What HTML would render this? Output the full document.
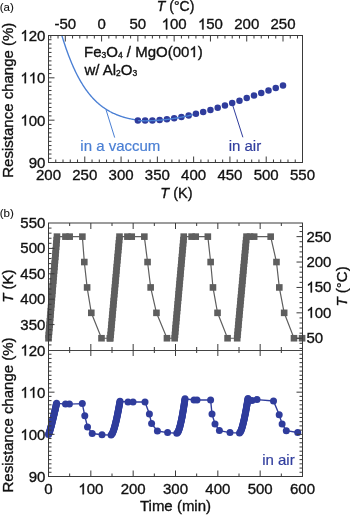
<!DOCTYPE html>
<html><head><meta charset="utf-8"><style>
html,body{margin:0;padding:0;background:#fff;}
svg{display:block;will-change:transform;font-family:"Liberation Sans",sans-serif;}
</style></head><body>
<svg width="350" height="515" viewBox="0 0 350 515">
<rect width="350" height="515" fill="#fff"/>
<path d="M61.90,35.65 L62.40,37.29 L62.90,38.90 L63.40,40.48 L63.90,42.03 L64.40,43.57 L64.90,45.07 L65.40,46.55 L65.90,48.01 L66.40,49.44 L66.90,50.85 L67.40,52.23 L67.90,53.59 L68.40,54.93 L68.90,56.25 L69.40,57.54 L69.90,58.81 L70.40,60.06 L70.90,61.29 L71.40,62.50 L71.90,63.68 L72.40,64.85 L72.90,66.00 L73.40,67.12 L73.90,68.23 L74.40,69.31 L74.90,70.38 L75.40,71.43 L75.90,72.46 L76.40,73.47 L76.90,74.46 L77.40,75.44 L77.90,76.40 L78.40,77.34 L78.90,78.26 L79.40,79.17 L79.90,80.06 L80.40,80.93 L80.90,81.79 L81.40,82.63 L81.90,83.46 L82.40,84.27 L82.90,85.07 L83.40,85.85 L83.90,86.62 L84.40,87.37 L84.90,88.11 L85.40,88.84 L85.90,89.55 L86.40,90.25 L86.90,90.93 L87.40,91.61 L87.90,92.27 L88.40,92.91 L88.90,93.55 L89.40,94.17 L89.90,94.78 L90.40,95.38 L90.90,95.97 L91.40,96.54 L91.90,97.11 L92.40,97.66 L92.90,98.20 L93.40,98.74 L93.90,99.26 L94.40,99.77 L94.90,100.27 L95.40,100.77 L95.90,101.25 L96.40,101.72 L96.90,102.19 L97.40,102.64 L97.90,103.09 L98.40,103.53 L98.90,103.95 L99.40,104.37 L99.90,104.79 L100.40,105.19 L100.90,105.59 L101.40,105.97 L101.90,106.35 L102.40,106.73 L102.90,107.09 L103.40,107.45 L103.90,107.80 L104.40,108.14 L104.90,108.48 L105.40,108.81 L105.90,109.13 L106.40,109.45 L106.90,109.76 L107.40,110.06 L107.90,110.36 L108.40,110.65 L108.90,110.94 L109.40,111.22 L109.90,111.50 L110.40,111.76 L110.90,112.03 L111.40,112.29 L111.90,112.54 L112.40,112.79 L112.90,113.03 L113.40,113.27 L113.90,113.50 L114.40,113.73 L114.90,113.95 L115.40,114.17 L115.90,114.38 L116.40,114.59 L116.90,114.80 L117.40,115.00 L117.90,115.20 L118.40,115.39 L118.90,115.58 L119.40,115.76 L119.90,115.94 L120.40,116.11 L120.90,116.29 L121.40,116.45 L121.90,116.62 L122.40,116.78 L122.90,116.94 L123.40,117.09 L123.90,117.24 L124.40,117.38 L124.90,117.53 L125.40,117.66 L125.90,117.80 L126.40,117.93 L126.90,118.06 L127.40,118.18 L127.90,118.30 L128.40,118.42 L128.90,118.54 L129.40,118.65 L129.90,118.76 L130.40,118.86 L130.90,118.96 L131.40,119.06 L131.90,119.15 L132.40,119.24 L132.90,119.33 L133.40,119.41 L133.90,119.49 L134.40,119.57 L134.90,119.65 L135.40,119.72 L135.90,119.78 L136.40,119.85 L136.90,119.91 L137.40,119.96 L137.90,120.02" fill="none" stroke="#4a7fd4" stroke-width="1.35" stroke-linejoin="round"/>
<circle cx="137.87" cy="120.42" r="3.25" fill="#2f3c9c"/>
<circle cx="145.13" cy="120.60" r="3.25" fill="#2f3c9c"/>
<circle cx="152.39" cy="120.44" r="3.25" fill="#2f3c9c"/>
<circle cx="159.64" cy="119.98" r="3.25" fill="#2f3c9c"/>
<circle cx="166.90" cy="119.23" r="3.25" fill="#2f3c9c"/>
<circle cx="174.16" cy="118.22" r="3.25" fill="#2f3c9c"/>
<circle cx="181.41" cy="116.96" r="3.25" fill="#2f3c9c"/>
<circle cx="188.67" cy="115.48" r="3.25" fill="#2f3c9c"/>
<circle cx="195.93" cy="113.80" r="3.25" fill="#2f3c9c"/>
<circle cx="203.19" cy="111.94" r="3.25" fill="#2f3c9c"/>
<circle cx="210.44" cy="109.91" r="3.25" fill="#2f3c9c"/>
<circle cx="217.70" cy="107.75" r="3.25" fill="#2f3c9c"/>
<circle cx="224.96" cy="105.46" r="3.25" fill="#2f3c9c"/>
<circle cx="232.21" cy="103.08" r="3.25" fill="#2f3c9c"/>
<circle cx="239.47" cy="100.63" r="3.25" fill="#2f3c9c"/>
<circle cx="246.73" cy="98.11" r="3.25" fill="#2f3c9c"/>
<circle cx="253.99" cy="95.56" r="3.25" fill="#2f3c9c"/>
<circle cx="261.24" cy="93.00" r="3.25" fill="#2f3c9c"/>
<circle cx="268.50" cy="90.45" r="3.25" fill="#2f3c9c"/>
<circle cx="275.76" cy="87.92" r="3.25" fill="#2f3c9c"/>
<circle cx="283.01" cy="85.44" r="3.25" fill="#2f3c9c"/>
<path d="M138.00,120.63 L138.50,120.65 L139.00,120.67 L139.50,120.69 L140.00,120.71 L140.50,120.73 L141.00,120.74 L141.50,120.75 L142.00,120.76 L142.50,120.77 L143.00,120.78 L143.50,120.79 L144.00,120.79 L144.50,120.80 L145.00,120.80 L145.50,120.80 L146.00,120.80 L146.50,120.79 L147.00,120.79 L147.50,120.78 L148.00,120.77 L148.50,120.77 L149.00,120.75 L149.50,120.74 L150.00,120.73 L150.50,120.71 L151.00,120.70 L151.50,120.68 L152.00,120.66 L152.50,120.64 L153.00,120.62 L153.50,120.59 L154.00,120.57 L154.50,120.54 L155.00,120.51 L155.50,120.48 L156.00,120.45 L156.50,120.42 L157.00,120.38 L157.50,120.35 L158.00,120.31 L158.50,120.27 L159.00,120.23 L159.50,120.19 L160.00,120.15 L160.50,120.11 L161.00,120.06 L161.50,120.02 L162.00,119.97 L162.50,119.92 L163.00,119.87 L163.50,119.82 L164.00,119.76 L164.50,119.71 L165.00,119.66 L165.50,119.60 L166.00,119.54 L166.50,119.48 L167.00,119.42 L167.50,119.36 L168.00,119.30 L168.50,119.23 L169.00,119.17 L169.50,119.10 L170.00,119.03 L170.50,118.96 L171.00,118.89 L171.50,118.82 L172.00,118.75 L172.50,118.67 L173.00,118.60 L173.50,118.52 L174.00,118.44 L174.50,118.37 L175.00,118.29 L175.50,118.21 L176.00,118.12 L176.50,118.04 L177.00,117.96 L177.50,117.87 L178.00,117.78 L178.50,117.70 L179.00,117.61 L179.50,117.52 L180.00,117.43 L180.50,117.33 L181.00,117.24 L181.50,117.15 L182.00,117.05 L182.50,116.96 L183.00,116.86 L183.50,116.76 L184.00,116.66 L184.50,116.56 L185.00,116.46 L185.50,116.36 L186.00,116.25 L186.50,116.15 L187.00,116.04 L187.50,115.94 L188.00,115.83 L188.50,115.72 L189.00,115.61 L189.50,115.50 L190.00,115.39 L190.50,115.28 L191.00,115.16 L191.50,115.05 L192.00,114.93 L192.50,114.82 L193.00,114.70" fill="none" stroke="#4a7fd4" stroke-width="1.35"/>
<line x1="106.00" y1="109.70" x2="114.70" y2="137.60" stroke="#4a7fd4" stroke-width="1.0"/>
<line x1="232.10" y1="103.40" x2="242.90" y2="137.30" stroke="#2f3c9c" stroke-width="1.0"/>
<path d="M48.50,338.24 L48.78,334.85 L49.06,331.47 L49.35,328.08 L49.63,324.69 L49.91,321.31 L50.19,317.92 L50.48,314.53 L50.76,311.15 L51.04,307.76 L51.32,304.37 L51.60,300.99 L51.89,297.60 L52.17,294.21 L52.45,290.83 L52.73,287.44 L53.02,284.05 L53.30,280.67 L53.58,277.28 L53.86,273.89 L54.14,270.51 L54.43,267.12 L54.71,263.73 L54.99,260.35 L55.27,256.96 L55.56,253.57 L55.84,250.19 L56.12,246.80 L56.40,243.41 L56.68,240.03 L56.97,236.64 L65.43,236.64 L69.67,236.64 L82.37,236.64 L84.31,262.04 L87.11,287.44 L91.30,312.84 L101.50,338.24 L109.80,338.24 L110.31,338.24 L110.61,334.85 L110.92,331.47 L111.23,328.08 L111.53,324.69 L111.84,321.31 L112.14,317.92 L112.45,314.53 L112.76,311.15 L113.06,307.76 L113.37,304.37 L113.67,300.99 L113.98,297.60 L114.29,294.21 L114.59,290.83 L114.90,287.44 L115.21,284.05 L115.51,280.67 L115.82,277.28 L116.12,273.89 L116.43,270.51 L116.74,267.12 L117.04,263.73 L117.35,260.35 L117.66,256.96 L117.96,253.57 L118.27,250.19 L118.57,246.80 L118.88,243.41 L119.19,240.03 L119.49,236.64 L127.41,236.64 L131.73,236.64 L144.34,236.64 L147.56,262.04 L150.65,287.44 L156.45,312.84 L166.95,338.24 L174.65,338.24 L174.96,334.85 L175.26,331.47 L175.56,328.08 L175.87,324.69 L176.17,321.31 L176.47,317.92 L176.78,314.53 L177.08,311.15 L177.38,307.76 L177.69,304.37 L177.99,300.99 L178.29,297.60 L178.60,294.21 L178.90,290.83 L179.20,287.44 L179.51,284.05 L179.81,280.67 L180.11,277.28 L180.42,273.89 L180.72,270.51 L181.02,267.12 L181.33,263.73 L181.63,260.35 L181.93,256.96 L182.24,253.57 L182.54,250.19 L182.84,246.80 L183.15,243.41 L183.45,240.03 L183.75,236.64 L191.59,236.64 L195.74,236.64 L207.84,236.64 L210.64,262.04 L212.97,287.44 L217.54,312.84 L227.57,338.24 L237.18,338.24 L237.49,334.85 L237.80,331.47 L238.11,328.08 L238.42,324.69 L238.73,321.31 L239.04,317.92 L239.35,314.53 L239.66,311.15 L239.97,307.76 L240.28,304.37 L240.59,300.99 L240.91,297.60 L241.22,294.21 L241.53,290.83 L241.84,287.44 L242.15,284.05 L242.46,280.67 L242.77,277.28 L243.08,273.89 L243.39,270.51 L243.70,267.12 L244.01,263.73 L244.32,260.35 L244.63,256.96 L244.94,253.57 L245.25,250.19 L245.56,246.80 L245.87,243.41 L246.18,240.03 L246.49,236.64 L250.01,236.64 L254.16,236.64 L270.67,236.64 L276.47,262.04 L279.30,287.44 L284.17,312.84 L293.99,338.24 L302.08,338.24" fill="none" stroke="#5e5e5e" stroke-width="1.2"/>
<rect x="45.20" y="334.94" width="6.6" height="6.6" fill="#5e5e5e"/>
<rect x="45.48" y="331.55" width="6.6" height="6.6" fill="#5e5e5e"/>
<rect x="45.76" y="328.17" width="6.6" height="6.6" fill="#5e5e5e"/>
<rect x="46.05" y="324.78" width="6.6" height="6.6" fill="#5e5e5e"/>
<rect x="46.33" y="321.39" width="6.6" height="6.6" fill="#5e5e5e"/>
<rect x="46.61" y="318.01" width="6.6" height="6.6" fill="#5e5e5e"/>
<rect x="46.89" y="314.62" width="6.6" height="6.6" fill="#5e5e5e"/>
<rect x="47.18" y="311.23" width="6.6" height="6.6" fill="#5e5e5e"/>
<rect x="47.46" y="307.85" width="6.6" height="6.6" fill="#5e5e5e"/>
<rect x="47.74" y="304.46" width="6.6" height="6.6" fill="#5e5e5e"/>
<rect x="48.02" y="301.07" width="6.6" height="6.6" fill="#5e5e5e"/>
<rect x="48.30" y="297.69" width="6.6" height="6.6" fill="#5e5e5e"/>
<rect x="48.59" y="294.30" width="6.6" height="6.6" fill="#5e5e5e"/>
<rect x="48.87" y="290.91" width="6.6" height="6.6" fill="#5e5e5e"/>
<rect x="49.15" y="287.53" width="6.6" height="6.6" fill="#5e5e5e"/>
<rect x="49.43" y="284.14" width="6.6" height="6.6" fill="#5e5e5e"/>
<rect x="49.72" y="280.75" width="6.6" height="6.6" fill="#5e5e5e"/>
<rect x="50.00" y="277.37" width="6.6" height="6.6" fill="#5e5e5e"/>
<rect x="50.28" y="273.98" width="6.6" height="6.6" fill="#5e5e5e"/>
<rect x="50.56" y="270.59" width="6.6" height="6.6" fill="#5e5e5e"/>
<rect x="50.84" y="267.21" width="6.6" height="6.6" fill="#5e5e5e"/>
<rect x="51.13" y="263.82" width="6.6" height="6.6" fill="#5e5e5e"/>
<rect x="51.41" y="260.43" width="6.6" height="6.6" fill="#5e5e5e"/>
<rect x="51.69" y="257.05" width="6.6" height="6.6" fill="#5e5e5e"/>
<rect x="51.97" y="253.66" width="6.6" height="6.6" fill="#5e5e5e"/>
<rect x="52.26" y="250.27" width="6.6" height="6.6" fill="#5e5e5e"/>
<rect x="52.54" y="246.89" width="6.6" height="6.6" fill="#5e5e5e"/>
<rect x="52.82" y="243.50" width="6.6" height="6.6" fill="#5e5e5e"/>
<rect x="53.10" y="240.11" width="6.6" height="6.6" fill="#5e5e5e"/>
<rect x="53.38" y="236.73" width="6.6" height="6.6" fill="#5e5e5e"/>
<rect x="53.67" y="233.34" width="6.6" height="6.6" fill="#5e5e5e"/>
<rect x="62.13" y="233.34" width="6.6" height="6.6" fill="#5e5e5e"/>
<rect x="66.37" y="233.34" width="6.6" height="6.6" fill="#5e5e5e"/>
<rect x="79.07" y="233.34" width="6.6" height="6.6" fill="#5e5e5e"/>
<rect x="81.01" y="258.74" width="6.6" height="6.6" fill="#5e5e5e"/>
<rect x="83.81" y="284.14" width="6.6" height="6.6" fill="#5e5e5e"/>
<rect x="88.00" y="309.54" width="6.6" height="6.6" fill="#5e5e5e"/>
<rect x="98.20" y="334.94" width="6.6" height="6.6" fill="#5e5e5e"/>
<rect x="106.50" y="334.94" width="6.6" height="6.6" fill="#5e5e5e"/>
<rect x="107.01" y="334.94" width="6.6" height="6.6" fill="#5e5e5e"/>
<rect x="107.31" y="331.55" width="6.6" height="6.6" fill="#5e5e5e"/>
<rect x="107.62" y="328.17" width="6.6" height="6.6" fill="#5e5e5e"/>
<rect x="107.93" y="324.78" width="6.6" height="6.6" fill="#5e5e5e"/>
<rect x="108.23" y="321.39" width="6.6" height="6.6" fill="#5e5e5e"/>
<rect x="108.54" y="318.01" width="6.6" height="6.6" fill="#5e5e5e"/>
<rect x="108.84" y="314.62" width="6.6" height="6.6" fill="#5e5e5e"/>
<rect x="109.15" y="311.23" width="6.6" height="6.6" fill="#5e5e5e"/>
<rect x="109.46" y="307.85" width="6.6" height="6.6" fill="#5e5e5e"/>
<rect x="109.76" y="304.46" width="6.6" height="6.6" fill="#5e5e5e"/>
<rect x="110.07" y="301.07" width="6.6" height="6.6" fill="#5e5e5e"/>
<rect x="110.37" y="297.69" width="6.6" height="6.6" fill="#5e5e5e"/>
<rect x="110.68" y="294.30" width="6.6" height="6.6" fill="#5e5e5e"/>
<rect x="110.99" y="290.91" width="6.6" height="6.6" fill="#5e5e5e"/>
<rect x="111.29" y="287.53" width="6.6" height="6.6" fill="#5e5e5e"/>
<rect x="111.60" y="284.14" width="6.6" height="6.6" fill="#5e5e5e"/>
<rect x="111.91" y="280.75" width="6.6" height="6.6" fill="#5e5e5e"/>
<rect x="112.21" y="277.37" width="6.6" height="6.6" fill="#5e5e5e"/>
<rect x="112.52" y="273.98" width="6.6" height="6.6" fill="#5e5e5e"/>
<rect x="112.82" y="270.59" width="6.6" height="6.6" fill="#5e5e5e"/>
<rect x="113.13" y="267.21" width="6.6" height="6.6" fill="#5e5e5e"/>
<rect x="113.44" y="263.82" width="6.6" height="6.6" fill="#5e5e5e"/>
<rect x="113.74" y="260.43" width="6.6" height="6.6" fill="#5e5e5e"/>
<rect x="114.05" y="257.05" width="6.6" height="6.6" fill="#5e5e5e"/>
<rect x="114.36" y="253.66" width="6.6" height="6.6" fill="#5e5e5e"/>
<rect x="114.66" y="250.27" width="6.6" height="6.6" fill="#5e5e5e"/>
<rect x="114.97" y="246.89" width="6.6" height="6.6" fill="#5e5e5e"/>
<rect x="115.27" y="243.50" width="6.6" height="6.6" fill="#5e5e5e"/>
<rect x="115.58" y="240.11" width="6.6" height="6.6" fill="#5e5e5e"/>
<rect x="115.89" y="236.73" width="6.6" height="6.6" fill="#5e5e5e"/>
<rect x="116.19" y="233.34" width="6.6" height="6.6" fill="#5e5e5e"/>
<rect x="124.11" y="233.34" width="6.6" height="6.6" fill="#5e5e5e"/>
<rect x="128.43" y="233.34" width="6.6" height="6.6" fill="#5e5e5e"/>
<rect x="141.04" y="233.34" width="6.6" height="6.6" fill="#5e5e5e"/>
<rect x="144.26" y="258.74" width="6.6" height="6.6" fill="#5e5e5e"/>
<rect x="147.35" y="284.14" width="6.6" height="6.6" fill="#5e5e5e"/>
<rect x="153.15" y="309.54" width="6.6" height="6.6" fill="#5e5e5e"/>
<rect x="163.65" y="334.94" width="6.6" height="6.6" fill="#5e5e5e"/>
<rect x="171.35" y="334.94" width="6.6" height="6.6" fill="#5e5e5e"/>
<rect x="171.66" y="331.55" width="6.6" height="6.6" fill="#5e5e5e"/>
<rect x="171.96" y="328.17" width="6.6" height="6.6" fill="#5e5e5e"/>
<rect x="172.26" y="324.78" width="6.6" height="6.6" fill="#5e5e5e"/>
<rect x="172.57" y="321.39" width="6.6" height="6.6" fill="#5e5e5e"/>
<rect x="172.87" y="318.01" width="6.6" height="6.6" fill="#5e5e5e"/>
<rect x="173.17" y="314.62" width="6.6" height="6.6" fill="#5e5e5e"/>
<rect x="173.48" y="311.23" width="6.6" height="6.6" fill="#5e5e5e"/>
<rect x="173.78" y="307.85" width="6.6" height="6.6" fill="#5e5e5e"/>
<rect x="174.08" y="304.46" width="6.6" height="6.6" fill="#5e5e5e"/>
<rect x="174.39" y="301.07" width="6.6" height="6.6" fill="#5e5e5e"/>
<rect x="174.69" y="297.69" width="6.6" height="6.6" fill="#5e5e5e"/>
<rect x="174.99" y="294.30" width="6.6" height="6.6" fill="#5e5e5e"/>
<rect x="175.30" y="290.91" width="6.6" height="6.6" fill="#5e5e5e"/>
<rect x="175.60" y="287.53" width="6.6" height="6.6" fill="#5e5e5e"/>
<rect x="175.90" y="284.14" width="6.6" height="6.6" fill="#5e5e5e"/>
<rect x="176.21" y="280.75" width="6.6" height="6.6" fill="#5e5e5e"/>
<rect x="176.51" y="277.37" width="6.6" height="6.6" fill="#5e5e5e"/>
<rect x="176.81" y="273.98" width="6.6" height="6.6" fill="#5e5e5e"/>
<rect x="177.12" y="270.59" width="6.6" height="6.6" fill="#5e5e5e"/>
<rect x="177.42" y="267.21" width="6.6" height="6.6" fill="#5e5e5e"/>
<rect x="177.72" y="263.82" width="6.6" height="6.6" fill="#5e5e5e"/>
<rect x="178.03" y="260.43" width="6.6" height="6.6" fill="#5e5e5e"/>
<rect x="178.33" y="257.05" width="6.6" height="6.6" fill="#5e5e5e"/>
<rect x="178.63" y="253.66" width="6.6" height="6.6" fill="#5e5e5e"/>
<rect x="178.94" y="250.27" width="6.6" height="6.6" fill="#5e5e5e"/>
<rect x="179.24" y="246.89" width="6.6" height="6.6" fill="#5e5e5e"/>
<rect x="179.54" y="243.50" width="6.6" height="6.6" fill="#5e5e5e"/>
<rect x="179.85" y="240.11" width="6.6" height="6.6" fill="#5e5e5e"/>
<rect x="180.15" y="236.73" width="6.6" height="6.6" fill="#5e5e5e"/>
<rect x="180.45" y="233.34" width="6.6" height="6.6" fill="#5e5e5e"/>
<rect x="188.29" y="233.34" width="6.6" height="6.6" fill="#5e5e5e"/>
<rect x="192.44" y="233.34" width="6.6" height="6.6" fill="#5e5e5e"/>
<rect x="204.54" y="233.34" width="6.6" height="6.6" fill="#5e5e5e"/>
<rect x="207.34" y="258.74" width="6.6" height="6.6" fill="#5e5e5e"/>
<rect x="209.66" y="284.14" width="6.6" height="6.6" fill="#5e5e5e"/>
<rect x="214.24" y="309.54" width="6.6" height="6.6" fill="#5e5e5e"/>
<rect x="224.27" y="334.94" width="6.6" height="6.6" fill="#5e5e5e"/>
<rect x="233.88" y="334.94" width="6.6" height="6.6" fill="#5e5e5e"/>
<rect x="234.19" y="331.55" width="6.6" height="6.6" fill="#5e5e5e"/>
<rect x="234.50" y="328.17" width="6.6" height="6.6" fill="#5e5e5e"/>
<rect x="234.81" y="324.78" width="6.6" height="6.6" fill="#5e5e5e"/>
<rect x="235.12" y="321.39" width="6.6" height="6.6" fill="#5e5e5e"/>
<rect x="235.43" y="318.01" width="6.6" height="6.6" fill="#5e5e5e"/>
<rect x="235.74" y="314.62" width="6.6" height="6.6" fill="#5e5e5e"/>
<rect x="236.05" y="311.23" width="6.6" height="6.6" fill="#5e5e5e"/>
<rect x="236.36" y="307.85" width="6.6" height="6.6" fill="#5e5e5e"/>
<rect x="236.67" y="304.46" width="6.6" height="6.6" fill="#5e5e5e"/>
<rect x="236.98" y="301.07" width="6.6" height="6.6" fill="#5e5e5e"/>
<rect x="237.29" y="297.69" width="6.6" height="6.6" fill="#5e5e5e"/>
<rect x="237.60" y="294.30" width="6.6" height="6.6" fill="#5e5e5e"/>
<rect x="237.92" y="290.91" width="6.6" height="6.6" fill="#5e5e5e"/>
<rect x="238.23" y="287.53" width="6.6" height="6.6" fill="#5e5e5e"/>
<rect x="238.54" y="284.14" width="6.6" height="6.6" fill="#5e5e5e"/>
<rect x="238.85" y="280.75" width="6.6" height="6.6" fill="#5e5e5e"/>
<rect x="239.16" y="277.37" width="6.6" height="6.6" fill="#5e5e5e"/>
<rect x="239.47" y="273.98" width="6.6" height="6.6" fill="#5e5e5e"/>
<rect x="239.78" y="270.59" width="6.6" height="6.6" fill="#5e5e5e"/>
<rect x="240.09" y="267.21" width="6.6" height="6.6" fill="#5e5e5e"/>
<rect x="240.40" y="263.82" width="6.6" height="6.6" fill="#5e5e5e"/>
<rect x="240.71" y="260.43" width="6.6" height="6.6" fill="#5e5e5e"/>
<rect x="241.02" y="257.05" width="6.6" height="6.6" fill="#5e5e5e"/>
<rect x="241.33" y="253.66" width="6.6" height="6.6" fill="#5e5e5e"/>
<rect x="241.64" y="250.27" width="6.6" height="6.6" fill="#5e5e5e"/>
<rect x="241.95" y="246.89" width="6.6" height="6.6" fill="#5e5e5e"/>
<rect x="242.26" y="243.50" width="6.6" height="6.6" fill="#5e5e5e"/>
<rect x="242.57" y="240.11" width="6.6" height="6.6" fill="#5e5e5e"/>
<rect x="242.88" y="236.73" width="6.6" height="6.6" fill="#5e5e5e"/>
<rect x="243.19" y="233.34" width="6.6" height="6.6" fill="#5e5e5e"/>
<rect x="246.71" y="233.34" width="6.6" height="6.6" fill="#5e5e5e"/>
<rect x="250.86" y="233.34" width="6.6" height="6.6" fill="#5e5e5e"/>
<rect x="267.37" y="233.34" width="6.6" height="6.6" fill="#5e5e5e"/>
<rect x="273.17" y="258.74" width="6.6" height="6.6" fill="#5e5e5e"/>
<rect x="276.00" y="284.14" width="6.6" height="6.6" fill="#5e5e5e"/>
<rect x="280.87" y="309.54" width="6.6" height="6.6" fill="#5e5e5e"/>
<rect x="290.69" y="334.94" width="6.6" height="6.6" fill="#5e5e5e"/>
<rect x="298.78" y="334.94" width="6.6" height="6.6" fill="#5e5e5e"/>
<path d="M48.50,434.60 L48.95,433.55 L49.31,432.51 L49.64,431.46 L49.96,430.41 L50.27,429.37 L50.56,428.32 L50.85,427.27 L51.13,426.23 L51.41,425.18 L51.68,424.13 L51.95,423.09 L52.22,422.04 L52.48,420.99 L52.74,419.95 L52.99,418.90 L53.25,417.85 L53.50,416.81 L53.75,415.76 L53.99,414.71 L54.24,413.67 L54.48,412.62 L54.72,411.57 L54.96,410.53 L55.20,409.48 L55.44,408.43 L55.67,407.39 L55.91,406.34 L56.14,405.29 L56.37,404.25 L56.60,403.20 L65.50,404.10 L69.40,404.10 L82.30,403.60 L84.80,415.80 L87.50,426.90 L92.20,433.50 L102.00,434.80 L111.10,435.00 L112.08,433.87 L112.63,432.75 L113.09,431.62 L113.50,430.49 L113.88,429.37 L114.23,428.24 L114.56,427.11 L114.87,425.99 L115.17,424.86 L115.46,423.73 L115.74,422.61 L116.01,421.48 L116.27,420.35 L116.52,419.23 L116.77,418.10 L117.01,416.97 L117.25,415.85 L117.49,414.72 L117.71,413.59 L117.94,412.47 L118.16,411.34 L118.38,410.21 L118.59,409.09 L118.80,407.96 L119.01,406.83 L119.21,405.71 L119.41,404.58 L119.61,403.45 L119.81,402.33 L120.00,401.20 L128.00,402.00 L133.00,402.00 L145.00,402.00 L149.40,414.00 L151.60,423.60 L157.40,431.00 L167.60,432.60 L176.80,433.30 L177.87,432.15 L178.41,431.00 L178.86,429.85 L179.25,428.70 L179.60,427.55 L179.92,426.40 L180.22,425.25 L180.51,424.10 L180.78,422.95 L181.04,421.80 L181.29,420.65 L181.53,419.50 L181.76,418.35 L181.99,417.20 L182.21,416.05 L182.42,414.90 L182.63,413.75 L182.84,412.60 L183.03,411.45 L183.23,410.30 L183.42,409.15 L183.61,408.00 L183.79,406.85 L183.97,405.70 L184.15,404.55 L184.33,403.40 L184.50,402.25 L184.67,401.10 L184.83,399.95 L185.00,398.80 L194.00,400.00 L197.00,400.00 L210.60,400.00 L212.00,414.00 L215.00,424.00 L219.40,430.60 L230.00,432.60 L239.50,433.00 L240.43,431.85 L240.96,430.69 L241.40,429.54 L241.79,428.39 L242.15,427.23 L242.49,426.08 L242.80,424.93 L243.10,423.77 L243.39,422.62 L243.66,421.47 L243.93,420.31 L244.19,419.16 L244.44,418.01 L244.68,416.85 L244.92,415.70 L245.15,414.55 L245.38,413.39 L245.60,412.24 L245.82,411.09 L246.03,409.93 L246.24,408.78 L246.45,407.63 L246.65,406.47 L246.85,405.32 L247.05,404.17 L247.25,403.01 L247.44,401.86 L247.63,400.71 L247.81,399.55 L248.00,398.40 L252.00,400.60 L257.00,399.60 L273.50,401.00 L279.20,414.70 L282.10,423.90 L286.30,430.70 L297.70,432.50" fill="none" stroke="#2f3c9c" stroke-width="1.4"/>
<circle cx="48.50" cy="434.60" r="3.5" fill="#2f3c9c"/>
<circle cx="48.95" cy="433.55" r="3.5" fill="#2f3c9c"/>
<circle cx="49.31" cy="432.51" r="3.5" fill="#2f3c9c"/>
<circle cx="49.64" cy="431.46" r="3.5" fill="#2f3c9c"/>
<circle cx="49.96" cy="430.41" r="3.5" fill="#2f3c9c"/>
<circle cx="50.27" cy="429.37" r="3.5" fill="#2f3c9c"/>
<circle cx="50.56" cy="428.32" r="3.5" fill="#2f3c9c"/>
<circle cx="50.85" cy="427.27" r="3.5" fill="#2f3c9c"/>
<circle cx="51.13" cy="426.23" r="3.5" fill="#2f3c9c"/>
<circle cx="51.41" cy="425.18" r="3.5" fill="#2f3c9c"/>
<circle cx="51.68" cy="424.13" r="3.5" fill="#2f3c9c"/>
<circle cx="51.95" cy="423.09" r="3.5" fill="#2f3c9c"/>
<circle cx="52.22" cy="422.04" r="3.5" fill="#2f3c9c"/>
<circle cx="52.48" cy="420.99" r="3.5" fill="#2f3c9c"/>
<circle cx="52.74" cy="419.95" r="3.5" fill="#2f3c9c"/>
<circle cx="52.99" cy="418.90" r="3.5" fill="#2f3c9c"/>
<circle cx="53.25" cy="417.85" r="3.5" fill="#2f3c9c"/>
<circle cx="53.50" cy="416.81" r="3.5" fill="#2f3c9c"/>
<circle cx="53.75" cy="415.76" r="3.5" fill="#2f3c9c"/>
<circle cx="53.99" cy="414.71" r="3.5" fill="#2f3c9c"/>
<circle cx="54.24" cy="413.67" r="3.5" fill="#2f3c9c"/>
<circle cx="54.48" cy="412.62" r="3.5" fill="#2f3c9c"/>
<circle cx="54.72" cy="411.57" r="3.5" fill="#2f3c9c"/>
<circle cx="54.96" cy="410.53" r="3.5" fill="#2f3c9c"/>
<circle cx="55.20" cy="409.48" r="3.5" fill="#2f3c9c"/>
<circle cx="55.44" cy="408.43" r="3.5" fill="#2f3c9c"/>
<circle cx="55.67" cy="407.39" r="3.5" fill="#2f3c9c"/>
<circle cx="55.91" cy="406.34" r="3.5" fill="#2f3c9c"/>
<circle cx="56.14" cy="405.29" r="3.5" fill="#2f3c9c"/>
<circle cx="56.37" cy="404.25" r="3.5" fill="#2f3c9c"/>
<circle cx="56.60" cy="403.20" r="3.5" fill="#2f3c9c"/>
<circle cx="65.50" cy="404.10" r="3.5" fill="#2f3c9c"/>
<circle cx="69.40" cy="404.10" r="3.5" fill="#2f3c9c"/>
<circle cx="82.30" cy="403.60" r="3.5" fill="#2f3c9c"/>
<circle cx="84.80" cy="415.80" r="3.5" fill="#2f3c9c"/>
<circle cx="87.50" cy="426.90" r="3.5" fill="#2f3c9c"/>
<circle cx="92.20" cy="433.50" r="3.5" fill="#2f3c9c"/>
<circle cx="102.00" cy="434.80" r="3.5" fill="#2f3c9c"/>
<circle cx="111.10" cy="435.00" r="3.5" fill="#2f3c9c"/>
<circle cx="112.08" cy="433.87" r="3.5" fill="#2f3c9c"/>
<circle cx="112.63" cy="432.75" r="3.5" fill="#2f3c9c"/>
<circle cx="113.09" cy="431.62" r="3.5" fill="#2f3c9c"/>
<circle cx="113.50" cy="430.49" r="3.5" fill="#2f3c9c"/>
<circle cx="113.88" cy="429.37" r="3.5" fill="#2f3c9c"/>
<circle cx="114.23" cy="428.24" r="3.5" fill="#2f3c9c"/>
<circle cx="114.56" cy="427.11" r="3.5" fill="#2f3c9c"/>
<circle cx="114.87" cy="425.99" r="3.5" fill="#2f3c9c"/>
<circle cx="115.17" cy="424.86" r="3.5" fill="#2f3c9c"/>
<circle cx="115.46" cy="423.73" r="3.5" fill="#2f3c9c"/>
<circle cx="115.74" cy="422.61" r="3.5" fill="#2f3c9c"/>
<circle cx="116.01" cy="421.48" r="3.5" fill="#2f3c9c"/>
<circle cx="116.27" cy="420.35" r="3.5" fill="#2f3c9c"/>
<circle cx="116.52" cy="419.23" r="3.5" fill="#2f3c9c"/>
<circle cx="116.77" cy="418.10" r="3.5" fill="#2f3c9c"/>
<circle cx="117.01" cy="416.97" r="3.5" fill="#2f3c9c"/>
<circle cx="117.25" cy="415.85" r="3.5" fill="#2f3c9c"/>
<circle cx="117.49" cy="414.72" r="3.5" fill="#2f3c9c"/>
<circle cx="117.71" cy="413.59" r="3.5" fill="#2f3c9c"/>
<circle cx="117.94" cy="412.47" r="3.5" fill="#2f3c9c"/>
<circle cx="118.16" cy="411.34" r="3.5" fill="#2f3c9c"/>
<circle cx="118.38" cy="410.21" r="3.5" fill="#2f3c9c"/>
<circle cx="118.59" cy="409.09" r="3.5" fill="#2f3c9c"/>
<circle cx="118.80" cy="407.96" r="3.5" fill="#2f3c9c"/>
<circle cx="119.01" cy="406.83" r="3.5" fill="#2f3c9c"/>
<circle cx="119.21" cy="405.71" r="3.5" fill="#2f3c9c"/>
<circle cx="119.41" cy="404.58" r="3.5" fill="#2f3c9c"/>
<circle cx="119.61" cy="403.45" r="3.5" fill="#2f3c9c"/>
<circle cx="119.81" cy="402.33" r="3.5" fill="#2f3c9c"/>
<circle cx="120.00" cy="401.20" r="3.5" fill="#2f3c9c"/>
<circle cx="128.00" cy="402.00" r="3.5" fill="#2f3c9c"/>
<circle cx="133.00" cy="402.00" r="3.5" fill="#2f3c9c"/>
<circle cx="145.00" cy="402.00" r="3.5" fill="#2f3c9c"/>
<circle cx="149.40" cy="414.00" r="3.5" fill="#2f3c9c"/>
<circle cx="151.60" cy="423.60" r="3.5" fill="#2f3c9c"/>
<circle cx="157.40" cy="431.00" r="3.5" fill="#2f3c9c"/>
<circle cx="167.60" cy="432.60" r="3.5" fill="#2f3c9c"/>
<circle cx="176.80" cy="433.30" r="3.5" fill="#2f3c9c"/>
<circle cx="177.87" cy="432.15" r="3.5" fill="#2f3c9c"/>
<circle cx="178.41" cy="431.00" r="3.5" fill="#2f3c9c"/>
<circle cx="178.86" cy="429.85" r="3.5" fill="#2f3c9c"/>
<circle cx="179.25" cy="428.70" r="3.5" fill="#2f3c9c"/>
<circle cx="179.60" cy="427.55" r="3.5" fill="#2f3c9c"/>
<circle cx="179.92" cy="426.40" r="3.5" fill="#2f3c9c"/>
<circle cx="180.22" cy="425.25" r="3.5" fill="#2f3c9c"/>
<circle cx="180.51" cy="424.10" r="3.5" fill="#2f3c9c"/>
<circle cx="180.78" cy="422.95" r="3.5" fill="#2f3c9c"/>
<circle cx="181.04" cy="421.80" r="3.5" fill="#2f3c9c"/>
<circle cx="181.29" cy="420.65" r="3.5" fill="#2f3c9c"/>
<circle cx="181.53" cy="419.50" r="3.5" fill="#2f3c9c"/>
<circle cx="181.76" cy="418.35" r="3.5" fill="#2f3c9c"/>
<circle cx="181.99" cy="417.20" r="3.5" fill="#2f3c9c"/>
<circle cx="182.21" cy="416.05" r="3.5" fill="#2f3c9c"/>
<circle cx="182.42" cy="414.90" r="3.5" fill="#2f3c9c"/>
<circle cx="182.63" cy="413.75" r="3.5" fill="#2f3c9c"/>
<circle cx="182.84" cy="412.60" r="3.5" fill="#2f3c9c"/>
<circle cx="183.03" cy="411.45" r="3.5" fill="#2f3c9c"/>
<circle cx="183.23" cy="410.30" r="3.5" fill="#2f3c9c"/>
<circle cx="183.42" cy="409.15" r="3.5" fill="#2f3c9c"/>
<circle cx="183.61" cy="408.00" r="3.5" fill="#2f3c9c"/>
<circle cx="183.79" cy="406.85" r="3.5" fill="#2f3c9c"/>
<circle cx="183.97" cy="405.70" r="3.5" fill="#2f3c9c"/>
<circle cx="184.15" cy="404.55" r="3.5" fill="#2f3c9c"/>
<circle cx="184.33" cy="403.40" r="3.5" fill="#2f3c9c"/>
<circle cx="184.50" cy="402.25" r="3.5" fill="#2f3c9c"/>
<circle cx="184.67" cy="401.10" r="3.5" fill="#2f3c9c"/>
<circle cx="184.83" cy="399.95" r="3.5" fill="#2f3c9c"/>
<circle cx="185.00" cy="398.80" r="3.5" fill="#2f3c9c"/>
<circle cx="194.00" cy="400.00" r="3.5" fill="#2f3c9c"/>
<circle cx="197.00" cy="400.00" r="3.5" fill="#2f3c9c"/>
<circle cx="210.60" cy="400.00" r="3.5" fill="#2f3c9c"/>
<circle cx="212.00" cy="414.00" r="3.5" fill="#2f3c9c"/>
<circle cx="215.00" cy="424.00" r="3.5" fill="#2f3c9c"/>
<circle cx="219.40" cy="430.60" r="3.5" fill="#2f3c9c"/>
<circle cx="230.00" cy="432.60" r="3.5" fill="#2f3c9c"/>
<circle cx="239.50" cy="433.00" r="3.5" fill="#2f3c9c"/>
<circle cx="240.43" cy="431.85" r="3.5" fill="#2f3c9c"/>
<circle cx="240.96" cy="430.69" r="3.5" fill="#2f3c9c"/>
<circle cx="241.40" cy="429.54" r="3.5" fill="#2f3c9c"/>
<circle cx="241.79" cy="428.39" r="3.5" fill="#2f3c9c"/>
<circle cx="242.15" cy="427.23" r="3.5" fill="#2f3c9c"/>
<circle cx="242.49" cy="426.08" r="3.5" fill="#2f3c9c"/>
<circle cx="242.80" cy="424.93" r="3.5" fill="#2f3c9c"/>
<circle cx="243.10" cy="423.77" r="3.5" fill="#2f3c9c"/>
<circle cx="243.39" cy="422.62" r="3.5" fill="#2f3c9c"/>
<circle cx="243.66" cy="421.47" r="3.5" fill="#2f3c9c"/>
<circle cx="243.93" cy="420.31" r="3.5" fill="#2f3c9c"/>
<circle cx="244.19" cy="419.16" r="3.5" fill="#2f3c9c"/>
<circle cx="244.44" cy="418.01" r="3.5" fill="#2f3c9c"/>
<circle cx="244.68" cy="416.85" r="3.5" fill="#2f3c9c"/>
<circle cx="244.92" cy="415.70" r="3.5" fill="#2f3c9c"/>
<circle cx="245.15" cy="414.55" r="3.5" fill="#2f3c9c"/>
<circle cx="245.38" cy="413.39" r="3.5" fill="#2f3c9c"/>
<circle cx="245.60" cy="412.24" r="3.5" fill="#2f3c9c"/>
<circle cx="245.82" cy="411.09" r="3.5" fill="#2f3c9c"/>
<circle cx="246.03" cy="409.93" r="3.5" fill="#2f3c9c"/>
<circle cx="246.24" cy="408.78" r="3.5" fill="#2f3c9c"/>
<circle cx="246.45" cy="407.63" r="3.5" fill="#2f3c9c"/>
<circle cx="246.65" cy="406.47" r="3.5" fill="#2f3c9c"/>
<circle cx="246.85" cy="405.32" r="3.5" fill="#2f3c9c"/>
<circle cx="247.05" cy="404.17" r="3.5" fill="#2f3c9c"/>
<circle cx="247.25" cy="403.01" r="3.5" fill="#2f3c9c"/>
<circle cx="247.44" cy="401.86" r="3.5" fill="#2f3c9c"/>
<circle cx="247.63" cy="400.71" r="3.5" fill="#2f3c9c"/>
<circle cx="247.81" cy="399.55" r="3.5" fill="#2f3c9c"/>
<circle cx="248.00" cy="398.40" r="3.5" fill="#2f3c9c"/>
<circle cx="252.00" cy="400.60" r="3.5" fill="#2f3c9c"/>
<circle cx="257.00" cy="399.60" r="3.5" fill="#2f3c9c"/>
<circle cx="273.50" cy="401.00" r="3.5" fill="#2f3c9c"/>
<circle cx="279.20" cy="414.70" r="3.5" fill="#2f3c9c"/>
<circle cx="282.10" cy="423.90" r="3.5" fill="#2f3c9c"/>
<circle cx="286.30" cy="430.70" r="3.5" fill="#2f3c9c"/>
<circle cx="297.70" cy="432.50" r="3.5" fill="#2f3c9c"/>
<rect x="48.5" y="35.5" width="254.0" height="127.0" fill="none" stroke="#3a3a3a" stroke-width="1"/>
<line x1="55.76" y1="162.50" x2="55.76" y2="159.50" stroke="#3a3a3a" stroke-width="1.0"/>
<line x1="63.01" y1="162.50" x2="63.01" y2="159.50" stroke="#3a3a3a" stroke-width="1.0"/>
<line x1="70.27" y1="162.50" x2="70.27" y2="159.50" stroke="#3a3a3a" stroke-width="1.0"/>
<line x1="77.53" y1="162.50" x2="77.53" y2="159.50" stroke="#3a3a3a" stroke-width="1.0"/>
<line x1="84.79" y1="162.50" x2="84.79" y2="156.50" stroke="#3a3a3a" stroke-width="1.0"/>
<line x1="92.04" y1="162.50" x2="92.04" y2="159.50" stroke="#3a3a3a" stroke-width="1.0"/>
<line x1="99.30" y1="162.50" x2="99.30" y2="159.50" stroke="#3a3a3a" stroke-width="1.0"/>
<line x1="106.56" y1="162.50" x2="106.56" y2="159.50" stroke="#3a3a3a" stroke-width="1.0"/>
<line x1="113.81" y1="162.50" x2="113.81" y2="159.50" stroke="#3a3a3a" stroke-width="1.0"/>
<line x1="121.07" y1="162.50" x2="121.07" y2="156.50" stroke="#3a3a3a" stroke-width="1.0"/>
<line x1="128.33" y1="162.50" x2="128.33" y2="159.50" stroke="#3a3a3a" stroke-width="1.0"/>
<line x1="135.59" y1="162.50" x2="135.59" y2="159.50" stroke="#3a3a3a" stroke-width="1.0"/>
<line x1="142.84" y1="162.50" x2="142.84" y2="159.50" stroke="#3a3a3a" stroke-width="1.0"/>
<line x1="150.10" y1="162.50" x2="150.10" y2="159.50" stroke="#3a3a3a" stroke-width="1.0"/>
<line x1="157.36" y1="162.50" x2="157.36" y2="156.50" stroke="#3a3a3a" stroke-width="1.0"/>
<line x1="164.61" y1="162.50" x2="164.61" y2="159.50" stroke="#3a3a3a" stroke-width="1.0"/>
<line x1="171.87" y1="162.50" x2="171.87" y2="159.50" stroke="#3a3a3a" stroke-width="1.0"/>
<line x1="179.13" y1="162.50" x2="179.13" y2="159.50" stroke="#3a3a3a" stroke-width="1.0"/>
<line x1="186.39" y1="162.50" x2="186.39" y2="159.50" stroke="#3a3a3a" stroke-width="1.0"/>
<line x1="193.64" y1="162.50" x2="193.64" y2="156.50" stroke="#3a3a3a" stroke-width="1.0"/>
<line x1="200.90" y1="162.50" x2="200.90" y2="159.50" stroke="#3a3a3a" stroke-width="1.0"/>
<line x1="208.16" y1="162.50" x2="208.16" y2="159.50" stroke="#3a3a3a" stroke-width="1.0"/>
<line x1="215.41" y1="162.50" x2="215.41" y2="159.50" stroke="#3a3a3a" stroke-width="1.0"/>
<line x1="222.67" y1="162.50" x2="222.67" y2="159.50" stroke="#3a3a3a" stroke-width="1.0"/>
<line x1="229.93" y1="162.50" x2="229.93" y2="156.50" stroke="#3a3a3a" stroke-width="1.0"/>
<line x1="237.19" y1="162.50" x2="237.19" y2="159.50" stroke="#3a3a3a" stroke-width="1.0"/>
<line x1="244.44" y1="162.50" x2="244.44" y2="159.50" stroke="#3a3a3a" stroke-width="1.0"/>
<line x1="251.70" y1="162.50" x2="251.70" y2="159.50" stroke="#3a3a3a" stroke-width="1.0"/>
<line x1="258.96" y1="162.50" x2="258.96" y2="159.50" stroke="#3a3a3a" stroke-width="1.0"/>
<line x1="266.21" y1="162.50" x2="266.21" y2="156.50" stroke="#3a3a3a" stroke-width="1.0"/>
<line x1="273.47" y1="162.50" x2="273.47" y2="159.50" stroke="#3a3a3a" stroke-width="1.0"/>
<line x1="280.73" y1="162.50" x2="280.73" y2="159.50" stroke="#3a3a3a" stroke-width="1.0"/>
<line x1="287.99" y1="162.50" x2="287.99" y2="159.50" stroke="#3a3a3a" stroke-width="1.0"/>
<line x1="295.24" y1="162.50" x2="295.24" y2="159.50" stroke="#3a3a3a" stroke-width="1.0"/>
<line x1="50.79" y1="35.50" x2="50.79" y2="38.50" stroke="#3a3a3a" stroke-width="1.0"/>
<line x1="58.04" y1="35.50" x2="58.04" y2="38.50" stroke="#3a3a3a" stroke-width="1.0"/>
<line x1="65.30" y1="35.50" x2="65.30" y2="41.50" stroke="#3a3a3a" stroke-width="1.0"/>
<line x1="72.56" y1="35.50" x2="72.56" y2="38.50" stroke="#3a3a3a" stroke-width="1.0"/>
<line x1="79.81" y1="35.50" x2="79.81" y2="38.50" stroke="#3a3a3a" stroke-width="1.0"/>
<line x1="87.07" y1="35.50" x2="87.07" y2="38.50" stroke="#3a3a3a" stroke-width="1.0"/>
<line x1="94.33" y1="35.50" x2="94.33" y2="38.50" stroke="#3a3a3a" stroke-width="1.0"/>
<line x1="101.59" y1="35.50" x2="101.59" y2="41.50" stroke="#3a3a3a" stroke-width="1.0"/>
<line x1="108.84" y1="35.50" x2="108.84" y2="38.50" stroke="#3a3a3a" stroke-width="1.0"/>
<line x1="116.10" y1="35.50" x2="116.10" y2="38.50" stroke="#3a3a3a" stroke-width="1.0"/>
<line x1="123.36" y1="35.50" x2="123.36" y2="38.50" stroke="#3a3a3a" stroke-width="1.0"/>
<line x1="130.61" y1="35.50" x2="130.61" y2="38.50" stroke="#3a3a3a" stroke-width="1.0"/>
<line x1="137.87" y1="35.50" x2="137.87" y2="41.50" stroke="#3a3a3a" stroke-width="1.0"/>
<line x1="145.13" y1="35.50" x2="145.13" y2="38.50" stroke="#3a3a3a" stroke-width="1.0"/>
<line x1="152.39" y1="35.50" x2="152.39" y2="38.50" stroke="#3a3a3a" stroke-width="1.0"/>
<line x1="159.64" y1="35.50" x2="159.64" y2="38.50" stroke="#3a3a3a" stroke-width="1.0"/>
<line x1="166.90" y1="35.50" x2="166.90" y2="38.50" stroke="#3a3a3a" stroke-width="1.0"/>
<line x1="174.16" y1="35.50" x2="174.16" y2="41.50" stroke="#3a3a3a" stroke-width="1.0"/>
<line x1="181.41" y1="35.50" x2="181.41" y2="38.50" stroke="#3a3a3a" stroke-width="1.0"/>
<line x1="188.67" y1="35.50" x2="188.67" y2="38.50" stroke="#3a3a3a" stroke-width="1.0"/>
<line x1="195.93" y1="35.50" x2="195.93" y2="38.50" stroke="#3a3a3a" stroke-width="1.0"/>
<line x1="203.19" y1="35.50" x2="203.19" y2="38.50" stroke="#3a3a3a" stroke-width="1.0"/>
<line x1="210.44" y1="35.50" x2="210.44" y2="41.50" stroke="#3a3a3a" stroke-width="1.0"/>
<line x1="217.70" y1="35.50" x2="217.70" y2="38.50" stroke="#3a3a3a" stroke-width="1.0"/>
<line x1="224.96" y1="35.50" x2="224.96" y2="38.50" stroke="#3a3a3a" stroke-width="1.0"/>
<line x1="232.21" y1="35.50" x2="232.21" y2="38.50" stroke="#3a3a3a" stroke-width="1.0"/>
<line x1="239.47" y1="35.50" x2="239.47" y2="38.50" stroke="#3a3a3a" stroke-width="1.0"/>
<line x1="246.73" y1="35.50" x2="246.73" y2="41.50" stroke="#3a3a3a" stroke-width="1.0"/>
<line x1="253.99" y1="35.50" x2="253.99" y2="38.50" stroke="#3a3a3a" stroke-width="1.0"/>
<line x1="261.24" y1="35.50" x2="261.24" y2="38.50" stroke="#3a3a3a" stroke-width="1.0"/>
<line x1="268.50" y1="35.50" x2="268.50" y2="38.50" stroke="#3a3a3a" stroke-width="1.0"/>
<line x1="275.76" y1="35.50" x2="275.76" y2="38.50" stroke="#3a3a3a" stroke-width="1.0"/>
<line x1="283.01" y1="35.50" x2="283.01" y2="41.50" stroke="#3a3a3a" stroke-width="1.0"/>
<line x1="290.27" y1="35.50" x2="290.27" y2="38.50" stroke="#3a3a3a" stroke-width="1.0"/>
<line x1="297.53" y1="35.50" x2="297.53" y2="38.50" stroke="#3a3a3a" stroke-width="1.0"/>
<line x1="48.50" y1="158.27" x2="51.50" y2="158.27" stroke="#3a3a3a" stroke-width="1.0"/>
<line x1="48.50" y1="154.03" x2="51.50" y2="154.03" stroke="#3a3a3a" stroke-width="1.0"/>
<line x1="48.50" y1="149.80" x2="51.50" y2="149.80" stroke="#3a3a3a" stroke-width="1.0"/>
<line x1="48.50" y1="145.57" x2="51.50" y2="145.57" stroke="#3a3a3a" stroke-width="1.0"/>
<line x1="48.50" y1="141.33" x2="51.50" y2="141.33" stroke="#3a3a3a" stroke-width="1.0"/>
<line x1="48.50" y1="137.10" x2="51.50" y2="137.10" stroke="#3a3a3a" stroke-width="1.0"/>
<line x1="48.50" y1="132.87" x2="51.50" y2="132.87" stroke="#3a3a3a" stroke-width="1.0"/>
<line x1="48.50" y1="128.63" x2="51.50" y2="128.63" stroke="#3a3a3a" stroke-width="1.0"/>
<line x1="48.50" y1="124.40" x2="51.50" y2="124.40" stroke="#3a3a3a" stroke-width="1.0"/>
<line x1="48.50" y1="120.17" x2="54.50" y2="120.17" stroke="#3a3a3a" stroke-width="1.0"/>
<line x1="48.50" y1="115.93" x2="51.50" y2="115.93" stroke="#3a3a3a" stroke-width="1.0"/>
<line x1="48.50" y1="111.70" x2="51.50" y2="111.70" stroke="#3a3a3a" stroke-width="1.0"/>
<line x1="48.50" y1="107.47" x2="51.50" y2="107.47" stroke="#3a3a3a" stroke-width="1.0"/>
<line x1="48.50" y1="103.23" x2="51.50" y2="103.23" stroke="#3a3a3a" stroke-width="1.0"/>
<line x1="48.50" y1="99.00" x2="51.50" y2="99.00" stroke="#3a3a3a" stroke-width="1.0"/>
<line x1="48.50" y1="94.77" x2="51.50" y2="94.77" stroke="#3a3a3a" stroke-width="1.0"/>
<line x1="48.50" y1="90.53" x2="51.50" y2="90.53" stroke="#3a3a3a" stroke-width="1.0"/>
<line x1="48.50" y1="86.30" x2="51.50" y2="86.30" stroke="#3a3a3a" stroke-width="1.0"/>
<line x1="48.50" y1="82.07" x2="51.50" y2="82.07" stroke="#3a3a3a" stroke-width="1.0"/>
<line x1="48.50" y1="77.83" x2="54.50" y2="77.83" stroke="#3a3a3a" stroke-width="1.0"/>
<line x1="48.50" y1="73.60" x2="51.50" y2="73.60" stroke="#3a3a3a" stroke-width="1.0"/>
<line x1="48.50" y1="69.37" x2="51.50" y2="69.37" stroke="#3a3a3a" stroke-width="1.0"/>
<line x1="48.50" y1="65.13" x2="51.50" y2="65.13" stroke="#3a3a3a" stroke-width="1.0"/>
<line x1="48.50" y1="60.90" x2="51.50" y2="60.90" stroke="#3a3a3a" stroke-width="1.0"/>
<line x1="48.50" y1="56.67" x2="51.50" y2="56.67" stroke="#3a3a3a" stroke-width="1.0"/>
<line x1="48.50" y1="52.43" x2="51.50" y2="52.43" stroke="#3a3a3a" stroke-width="1.0"/>
<line x1="48.50" y1="48.20" x2="51.50" y2="48.20" stroke="#3a3a3a" stroke-width="1.0"/>
<line x1="48.50" y1="43.97" x2="51.50" y2="43.97" stroke="#3a3a3a" stroke-width="1.0"/>
<line x1="48.50" y1="39.73" x2="51.50" y2="39.73" stroke="#3a3a3a" stroke-width="1.0"/>
<text x="48.50" y="179.60" font-size="15" fill="#111" stroke="#111" stroke-width="0.35" text-anchor="middle" >200</text>
<text x="84.79" y="179.60" font-size="15" fill="#111" stroke="#111" stroke-width="0.35" text-anchor="middle" >250</text>
<text x="121.07" y="179.60" font-size="15" fill="#111" stroke="#111" stroke-width="0.35" text-anchor="middle" >300</text>
<text x="157.36" y="179.60" font-size="15" fill="#111" stroke="#111" stroke-width="0.35" text-anchor="middle" >350</text>
<text x="193.64" y="179.60" font-size="15" fill="#111" stroke="#111" stroke-width="0.35" text-anchor="middle" >400</text>
<text x="229.93" y="179.60" font-size="15" fill="#111" stroke="#111" stroke-width="0.35" text-anchor="middle" >450</text>
<text x="266.21" y="179.60" font-size="15" fill="#111" stroke="#111" stroke-width="0.35" text-anchor="middle" >500</text>
<text x="302.50" y="179.60" font-size="15" fill="#111" stroke="#111" stroke-width="0.35" text-anchor="middle" >550</text>
<text x="65.30" y="29.40" font-size="15" fill="#111" stroke="#111" stroke-width="0.35" text-anchor="middle" >-50</text>
<text x="101.59" y="29.40" font-size="15" fill="#111" stroke="#111" stroke-width="0.35" text-anchor="middle" >0</text>
<text x="137.87" y="29.40" font-size="15" fill="#111" stroke="#111" stroke-width="0.35" text-anchor="middle" >50</text>
<path transform="translate(161.64,29.40) scale(0.00732,-0.00732)" d="M763 0L583 0L583 1147Q518 1085 412 1023Q307 961 223 930L223 1104Q374 1175 487 1276Q600 1377 647 1472L763 1472Z" fill="#111" stroke="#111" stroke-width="47.8"/>
<text x="174.16" y="29.40" font-size="15" fill="#111" stroke="#111" stroke-width="0.35" text-anchor="middle" >&#8199;00</text>
<path transform="translate(197.93,29.40) scale(0.00732,-0.00732)" d="M763 0L583 0L583 1147Q518 1085 412 1023Q307 961 223 930L223 1104Q374 1175 487 1276Q600 1377 647 1472L763 1472Z" fill="#111" stroke="#111" stroke-width="47.8"/>
<text x="210.44" y="29.40" font-size="15" fill="#111" stroke="#111" stroke-width="0.35" text-anchor="middle" >&#8199;50</text>
<text x="246.73" y="29.40" font-size="15" fill="#111" stroke="#111" stroke-width="0.35" text-anchor="middle" >200</text>
<text x="283.01" y="29.40" font-size="15" fill="#111" stroke="#111" stroke-width="0.35" text-anchor="middle" >250</text>
<text x="45.40" y="167.90" font-size="15" fill="#111" stroke="#111" stroke-width="0.35" text-anchor="end" >90</text>
<path transform="translate(20.37,125.57) scale(0.00732,-0.00732)" d="M763 0L583 0L583 1147Q518 1085 412 1023Q307 961 223 930L223 1104Q374 1175 487 1276Q600 1377 647 1472L763 1472Z" fill="#111" stroke="#111" stroke-width="47.8"/>
<text x="45.40" y="125.57" font-size="15" fill="#111" stroke="#111" stroke-width="0.35" text-anchor="end" >&#8199;00</text>
<path transform="translate(20.37,83.23) scale(0.00732,-0.00732)" d="M763 0L583 0L583 1147Q518 1085 412 1023Q307 961 223 930L223 1104Q374 1175 487 1276Q600 1377 647 1472L763 1472Z" fill="#111" stroke="#111" stroke-width="47.8"/>
<path transform="translate(28.72,83.23) scale(0.00732,-0.00732)" d="M763 0L583 0L583 1147Q518 1085 412 1023Q307 961 223 930L223 1104Q374 1175 487 1276Q600 1377 647 1472L763 1472Z" fill="#111" stroke="#111" stroke-width="47.8"/>
<text x="45.40" y="83.23" font-size="15" fill="#111" stroke="#111" stroke-width="0.35" text-anchor="end" >&#8199;&#8199;0</text>
<path transform="translate(20.37,40.90) scale(0.00732,-0.00732)" d="M763 0L583 0L583 1147Q518 1085 412 1023Q307 961 223 930L223 1104Q374 1175 487 1276Q600 1377 647 1472L763 1472Z" fill="#111" stroke="#111" stroke-width="47.8"/>
<text x="45.40" y="40.90" font-size="15" fill="#111" stroke="#111" stroke-width="0.35" text-anchor="end" >&#8199;20</text>
<text x="175.60" y="10.80" font-size="14" fill="#111" stroke="#111" stroke-width="0.35" text-anchor="middle" ><tspan font-style="italic">T</tspan> (°C)</text>
<text x="176.40" y="198.30" font-size="14.5" fill="#111" stroke="#111" stroke-width="0.35" text-anchor="middle" ><tspan font-style="italic">T</tspan> (K)</text>
<text transform="translate(12.70,100.20) rotate(-90)" font-size="15" fill="#111" stroke="#111" stroke-width="0.35" text-anchor="middle">Resistance change (%)</text>
<text x="84.00" y="57.10" font-size="15" fill="#111" stroke="#111" stroke-width="0.35" text-anchor="start" >Fe<tspan font-size="8.5" dy="1.2">3</tspan><tspan dy="-1.2">O</tspan><tspan font-size="8.5" dy="1.2">4</tspan><tspan dy="-1.2"> / MgO(00&#8199;)</tspan></text>
<path transform="translate(189.33,57.10) scale(0.00732,-0.00732)" d="M763 0L583 0L583 1147Q518 1085 412 1023Q307 961 223 930L223 1104Q374 1175 487 1276Q600 1377 647 1472L763 1472Z" fill="#111" stroke="#111" stroke-width="47.8"/>
<text x="84.40" y="74.60" font-size="15" fill="#111" stroke="#111" stroke-width="0.35" text-anchor="start" >w/ Al<tspan font-size="8.5" dy="1.2">2</tspan><tspan dy="-1.2">O</tspan><tspan font-size="8.5" dy="1.2">3</tspan></text>
<text x="80.30" y="150.80" font-size="15" fill="#4a7fd4" stroke="#4a7fd4" stroke-width="0.2" text-anchor="start" >in a vaccum</text>
<text x="228.70" y="150.70" font-size="15" fill="#313e9e" stroke="#313e9e" stroke-width="0.2" text-anchor="start" >in air</text>
<text x="-0.30" y="10.70" font-size="11.5" fill="#111" stroke="#111" stroke-width="0.1" text-anchor="start" >(a)</text>
<text x="-0.30" y="217.30" font-size="11.5" fill="#111" stroke="#111" stroke-width="0.1" text-anchor="start" >(b)</text>
<rect x="48.5" y="223.0" width="254.0" height="253.5" fill="none" stroke="#3a3a3a" stroke-width="1"/>
<line x1="48.50" y1="350.50" x2="302.50" y2="350.50" stroke="#444" stroke-width="1.0"/>
<line x1="48.50" y1="344.92" x2="51.50" y2="344.92" stroke="#3a3a3a" stroke-width="1.0"/>
<line x1="48.50" y1="339.84" x2="51.50" y2="339.84" stroke="#3a3a3a" stroke-width="1.0"/>
<line x1="48.50" y1="334.76" x2="51.50" y2="334.76" stroke="#3a3a3a" stroke-width="1.0"/>
<line x1="48.50" y1="329.68" x2="51.50" y2="329.68" stroke="#3a3a3a" stroke-width="1.0"/>
<line x1="48.50" y1="324.60" x2="54.50" y2="324.60" stroke="#3a3a3a" stroke-width="1.0"/>
<line x1="48.50" y1="319.52" x2="51.50" y2="319.52" stroke="#3a3a3a" stroke-width="1.0"/>
<line x1="48.50" y1="314.44" x2="51.50" y2="314.44" stroke="#3a3a3a" stroke-width="1.0"/>
<line x1="48.50" y1="309.36" x2="51.50" y2="309.36" stroke="#3a3a3a" stroke-width="1.0"/>
<line x1="48.50" y1="304.28" x2="51.50" y2="304.28" stroke="#3a3a3a" stroke-width="1.0"/>
<line x1="48.50" y1="299.20" x2="54.50" y2="299.20" stroke="#3a3a3a" stroke-width="1.0"/>
<line x1="48.50" y1="294.12" x2="51.50" y2="294.12" stroke="#3a3a3a" stroke-width="1.0"/>
<line x1="48.50" y1="289.04" x2="51.50" y2="289.04" stroke="#3a3a3a" stroke-width="1.0"/>
<line x1="48.50" y1="283.96" x2="51.50" y2="283.96" stroke="#3a3a3a" stroke-width="1.0"/>
<line x1="48.50" y1="278.88" x2="51.50" y2="278.88" stroke="#3a3a3a" stroke-width="1.0"/>
<line x1="48.50" y1="273.80" x2="54.50" y2="273.80" stroke="#3a3a3a" stroke-width="1.0"/>
<line x1="48.50" y1="268.72" x2="51.50" y2="268.72" stroke="#3a3a3a" stroke-width="1.0"/>
<line x1="48.50" y1="263.64" x2="51.50" y2="263.64" stroke="#3a3a3a" stroke-width="1.0"/>
<line x1="48.50" y1="258.56" x2="51.50" y2="258.56" stroke="#3a3a3a" stroke-width="1.0"/>
<line x1="48.50" y1="253.48" x2="51.50" y2="253.48" stroke="#3a3a3a" stroke-width="1.0"/>
<line x1="48.50" y1="248.40" x2="54.50" y2="248.40" stroke="#3a3a3a" stroke-width="1.0"/>
<line x1="48.50" y1="243.32" x2="51.50" y2="243.32" stroke="#3a3a3a" stroke-width="1.0"/>
<line x1="48.50" y1="238.24" x2="51.50" y2="238.24" stroke="#3a3a3a" stroke-width="1.0"/>
<line x1="48.50" y1="233.16" x2="51.50" y2="233.16" stroke="#3a3a3a" stroke-width="1.0"/>
<line x1="48.50" y1="228.08" x2="51.50" y2="228.08" stroke="#3a3a3a" stroke-width="1.0"/>
<line x1="302.50" y1="348.40" x2="299.50" y2="348.40" stroke="#3a3a3a" stroke-width="1.0"/>
<line x1="302.50" y1="343.32" x2="299.50" y2="343.32" stroke="#3a3a3a" stroke-width="1.0"/>
<line x1="302.50" y1="338.24" x2="296.50" y2="338.24" stroke="#3a3a3a" stroke-width="1.0"/>
<line x1="302.50" y1="333.16" x2="299.50" y2="333.16" stroke="#3a3a3a" stroke-width="1.0"/>
<line x1="302.50" y1="328.08" x2="299.50" y2="328.08" stroke="#3a3a3a" stroke-width="1.0"/>
<line x1="302.50" y1="323.00" x2="299.50" y2="323.00" stroke="#3a3a3a" stroke-width="1.0"/>
<line x1="302.50" y1="317.92" x2="299.50" y2="317.92" stroke="#3a3a3a" stroke-width="1.0"/>
<line x1="302.50" y1="312.84" x2="296.50" y2="312.84" stroke="#3a3a3a" stroke-width="1.0"/>
<line x1="302.50" y1="307.76" x2="299.50" y2="307.76" stroke="#3a3a3a" stroke-width="1.0"/>
<line x1="302.50" y1="302.68" x2="299.50" y2="302.68" stroke="#3a3a3a" stroke-width="1.0"/>
<line x1="302.50" y1="297.60" x2="299.50" y2="297.60" stroke="#3a3a3a" stroke-width="1.0"/>
<line x1="302.50" y1="292.52" x2="299.50" y2="292.52" stroke="#3a3a3a" stroke-width="1.0"/>
<line x1="302.50" y1="287.44" x2="296.50" y2="287.44" stroke="#3a3a3a" stroke-width="1.0"/>
<line x1="302.50" y1="282.36" x2="299.50" y2="282.36" stroke="#3a3a3a" stroke-width="1.0"/>
<line x1="302.50" y1="277.28" x2="299.50" y2="277.28" stroke="#3a3a3a" stroke-width="1.0"/>
<line x1="302.50" y1="272.20" x2="299.50" y2="272.20" stroke="#3a3a3a" stroke-width="1.0"/>
<line x1="302.50" y1="267.12" x2="299.50" y2="267.12" stroke="#3a3a3a" stroke-width="1.0"/>
<line x1="302.50" y1="262.04" x2="296.50" y2="262.04" stroke="#3a3a3a" stroke-width="1.0"/>
<line x1="302.50" y1="256.96" x2="299.50" y2="256.96" stroke="#3a3a3a" stroke-width="1.0"/>
<line x1="302.50" y1="251.88" x2="299.50" y2="251.88" stroke="#3a3a3a" stroke-width="1.0"/>
<line x1="302.50" y1="246.80" x2="299.50" y2="246.80" stroke="#3a3a3a" stroke-width="1.0"/>
<line x1="302.50" y1="241.72" x2="299.50" y2="241.72" stroke="#3a3a3a" stroke-width="1.0"/>
<line x1="302.50" y1="236.64" x2="296.50" y2="236.64" stroke="#3a3a3a" stroke-width="1.0"/>
<line x1="302.50" y1="231.56" x2="299.50" y2="231.56" stroke="#3a3a3a" stroke-width="1.0"/>
<line x1="302.50" y1="226.48" x2="299.50" y2="226.48" stroke="#3a3a3a" stroke-width="1.0"/>
<line x1="69.67" y1="223.00" x2="69.67" y2="226.00" stroke="#3a3a3a" stroke-width="1.0"/>
<line x1="69.67" y1="347.00" x2="69.67" y2="353.00" stroke="#3a3a3a" stroke-width="1.0"/>
<line x1="69.67" y1="476.50" x2="69.67" y2="473.50" stroke="#3a3a3a" stroke-width="1.0"/>
<line x1="90.83" y1="223.00" x2="90.83" y2="229.00" stroke="#3a3a3a" stroke-width="1.0"/>
<line x1="90.83" y1="344.00" x2="90.83" y2="356.00" stroke="#3a3a3a" stroke-width="1.0"/>
<line x1="90.83" y1="476.50" x2="90.83" y2="470.50" stroke="#3a3a3a" stroke-width="1.0"/>
<line x1="112.00" y1="223.00" x2="112.00" y2="226.00" stroke="#3a3a3a" stroke-width="1.0"/>
<line x1="112.00" y1="347.00" x2="112.00" y2="353.00" stroke="#3a3a3a" stroke-width="1.0"/>
<line x1="112.00" y1="476.50" x2="112.00" y2="473.50" stroke="#3a3a3a" stroke-width="1.0"/>
<line x1="133.17" y1="223.00" x2="133.17" y2="229.00" stroke="#3a3a3a" stroke-width="1.0"/>
<line x1="133.17" y1="344.00" x2="133.17" y2="356.00" stroke="#3a3a3a" stroke-width="1.0"/>
<line x1="133.17" y1="476.50" x2="133.17" y2="470.50" stroke="#3a3a3a" stroke-width="1.0"/>
<line x1="154.33" y1="223.00" x2="154.33" y2="226.00" stroke="#3a3a3a" stroke-width="1.0"/>
<line x1="154.33" y1="347.00" x2="154.33" y2="353.00" stroke="#3a3a3a" stroke-width="1.0"/>
<line x1="154.33" y1="476.50" x2="154.33" y2="473.50" stroke="#3a3a3a" stroke-width="1.0"/>
<line x1="175.50" y1="223.00" x2="175.50" y2="229.00" stroke="#3a3a3a" stroke-width="1.0"/>
<line x1="175.50" y1="344.00" x2="175.50" y2="356.00" stroke="#3a3a3a" stroke-width="1.0"/>
<line x1="175.50" y1="476.50" x2="175.50" y2="470.50" stroke="#3a3a3a" stroke-width="1.0"/>
<line x1="196.67" y1="223.00" x2="196.67" y2="226.00" stroke="#3a3a3a" stroke-width="1.0"/>
<line x1="196.67" y1="347.00" x2="196.67" y2="353.00" stroke="#3a3a3a" stroke-width="1.0"/>
<line x1="196.67" y1="476.50" x2="196.67" y2="473.50" stroke="#3a3a3a" stroke-width="1.0"/>
<line x1="217.83" y1="223.00" x2="217.83" y2="229.00" stroke="#3a3a3a" stroke-width="1.0"/>
<line x1="217.83" y1="344.00" x2="217.83" y2="356.00" stroke="#3a3a3a" stroke-width="1.0"/>
<line x1="217.83" y1="476.50" x2="217.83" y2="470.50" stroke="#3a3a3a" stroke-width="1.0"/>
<line x1="239.00" y1="223.00" x2="239.00" y2="226.00" stroke="#3a3a3a" stroke-width="1.0"/>
<line x1="239.00" y1="347.00" x2="239.00" y2="353.00" stroke="#3a3a3a" stroke-width="1.0"/>
<line x1="239.00" y1="476.50" x2="239.00" y2="473.50" stroke="#3a3a3a" stroke-width="1.0"/>
<line x1="260.17" y1="223.00" x2="260.17" y2="229.00" stroke="#3a3a3a" stroke-width="1.0"/>
<line x1="260.17" y1="344.00" x2="260.17" y2="356.00" stroke="#3a3a3a" stroke-width="1.0"/>
<line x1="260.17" y1="476.50" x2="260.17" y2="470.50" stroke="#3a3a3a" stroke-width="1.0"/>
<line x1="281.33" y1="223.00" x2="281.33" y2="226.00" stroke="#3a3a3a" stroke-width="1.0"/>
<line x1="281.33" y1="347.00" x2="281.33" y2="353.00" stroke="#3a3a3a" stroke-width="1.0"/>
<line x1="281.33" y1="476.50" x2="281.33" y2="473.50" stroke="#3a3a3a" stroke-width="1.0"/>
<line x1="48.50" y1="472.28" x2="51.50" y2="472.28" stroke="#3a3a3a" stroke-width="1.0"/>
<line x1="302.50" y1="472.28" x2="299.50" y2="472.28" stroke="#3a3a3a" stroke-width="1.0"/>
<line x1="48.50" y1="468.07" x2="51.50" y2="468.07" stroke="#3a3a3a" stroke-width="1.0"/>
<line x1="302.50" y1="468.07" x2="299.50" y2="468.07" stroke="#3a3a3a" stroke-width="1.0"/>
<line x1="48.50" y1="463.85" x2="51.50" y2="463.85" stroke="#3a3a3a" stroke-width="1.0"/>
<line x1="302.50" y1="463.85" x2="299.50" y2="463.85" stroke="#3a3a3a" stroke-width="1.0"/>
<line x1="48.50" y1="459.63" x2="51.50" y2="459.63" stroke="#3a3a3a" stroke-width="1.0"/>
<line x1="302.50" y1="459.63" x2="299.50" y2="459.63" stroke="#3a3a3a" stroke-width="1.0"/>
<line x1="48.50" y1="455.42" x2="51.50" y2="455.42" stroke="#3a3a3a" stroke-width="1.0"/>
<line x1="302.50" y1="455.42" x2="299.50" y2="455.42" stroke="#3a3a3a" stroke-width="1.0"/>
<line x1="48.50" y1="451.20" x2="51.50" y2="451.20" stroke="#3a3a3a" stroke-width="1.0"/>
<line x1="302.50" y1="451.20" x2="299.50" y2="451.20" stroke="#3a3a3a" stroke-width="1.0"/>
<line x1="48.50" y1="446.98" x2="51.50" y2="446.98" stroke="#3a3a3a" stroke-width="1.0"/>
<line x1="302.50" y1="446.98" x2="299.50" y2="446.98" stroke="#3a3a3a" stroke-width="1.0"/>
<line x1="48.50" y1="442.77" x2="51.50" y2="442.77" stroke="#3a3a3a" stroke-width="1.0"/>
<line x1="302.50" y1="442.77" x2="299.50" y2="442.77" stroke="#3a3a3a" stroke-width="1.0"/>
<line x1="48.50" y1="438.55" x2="51.50" y2="438.55" stroke="#3a3a3a" stroke-width="1.0"/>
<line x1="302.50" y1="438.55" x2="299.50" y2="438.55" stroke="#3a3a3a" stroke-width="1.0"/>
<line x1="48.50" y1="434.33" x2="54.50" y2="434.33" stroke="#3a3a3a" stroke-width="1.0"/>
<line x1="302.50" y1="434.33" x2="296.50" y2="434.33" stroke="#3a3a3a" stroke-width="1.0"/>
<line x1="48.50" y1="430.12" x2="51.50" y2="430.12" stroke="#3a3a3a" stroke-width="1.0"/>
<line x1="302.50" y1="430.12" x2="299.50" y2="430.12" stroke="#3a3a3a" stroke-width="1.0"/>
<line x1="48.50" y1="425.90" x2="51.50" y2="425.90" stroke="#3a3a3a" stroke-width="1.0"/>
<line x1="302.50" y1="425.90" x2="299.50" y2="425.90" stroke="#3a3a3a" stroke-width="1.0"/>
<line x1="48.50" y1="421.68" x2="51.50" y2="421.68" stroke="#3a3a3a" stroke-width="1.0"/>
<line x1="302.50" y1="421.68" x2="299.50" y2="421.68" stroke="#3a3a3a" stroke-width="1.0"/>
<line x1="48.50" y1="417.47" x2="51.50" y2="417.47" stroke="#3a3a3a" stroke-width="1.0"/>
<line x1="302.50" y1="417.47" x2="299.50" y2="417.47" stroke="#3a3a3a" stroke-width="1.0"/>
<line x1="48.50" y1="413.25" x2="51.50" y2="413.25" stroke="#3a3a3a" stroke-width="1.0"/>
<line x1="302.50" y1="413.25" x2="299.50" y2="413.25" stroke="#3a3a3a" stroke-width="1.0"/>
<line x1="48.50" y1="409.03" x2="51.50" y2="409.03" stroke="#3a3a3a" stroke-width="1.0"/>
<line x1="302.50" y1="409.03" x2="299.50" y2="409.03" stroke="#3a3a3a" stroke-width="1.0"/>
<line x1="48.50" y1="404.82" x2="51.50" y2="404.82" stroke="#3a3a3a" stroke-width="1.0"/>
<line x1="302.50" y1="404.82" x2="299.50" y2="404.82" stroke="#3a3a3a" stroke-width="1.0"/>
<line x1="48.50" y1="400.60" x2="51.50" y2="400.60" stroke="#3a3a3a" stroke-width="1.0"/>
<line x1="302.50" y1="400.60" x2="299.50" y2="400.60" stroke="#3a3a3a" stroke-width="1.0"/>
<line x1="48.50" y1="396.38" x2="51.50" y2="396.38" stroke="#3a3a3a" stroke-width="1.0"/>
<line x1="302.50" y1="396.38" x2="299.50" y2="396.38" stroke="#3a3a3a" stroke-width="1.0"/>
<line x1="48.50" y1="392.17" x2="54.50" y2="392.17" stroke="#3a3a3a" stroke-width="1.0"/>
<line x1="302.50" y1="392.17" x2="296.50" y2="392.17" stroke="#3a3a3a" stroke-width="1.0"/>
<line x1="48.50" y1="387.95" x2="51.50" y2="387.95" stroke="#3a3a3a" stroke-width="1.0"/>
<line x1="302.50" y1="387.95" x2="299.50" y2="387.95" stroke="#3a3a3a" stroke-width="1.0"/>
<line x1="48.50" y1="383.73" x2="51.50" y2="383.73" stroke="#3a3a3a" stroke-width="1.0"/>
<line x1="302.50" y1="383.73" x2="299.50" y2="383.73" stroke="#3a3a3a" stroke-width="1.0"/>
<line x1="48.50" y1="379.52" x2="51.50" y2="379.52" stroke="#3a3a3a" stroke-width="1.0"/>
<line x1="302.50" y1="379.52" x2="299.50" y2="379.52" stroke="#3a3a3a" stroke-width="1.0"/>
<line x1="48.50" y1="375.30" x2="51.50" y2="375.30" stroke="#3a3a3a" stroke-width="1.0"/>
<line x1="302.50" y1="375.30" x2="299.50" y2="375.30" stroke="#3a3a3a" stroke-width="1.0"/>
<line x1="48.50" y1="371.08" x2="51.50" y2="371.08" stroke="#3a3a3a" stroke-width="1.0"/>
<line x1="302.50" y1="371.08" x2="299.50" y2="371.08" stroke="#3a3a3a" stroke-width="1.0"/>
<line x1="48.50" y1="366.87" x2="51.50" y2="366.87" stroke="#3a3a3a" stroke-width="1.0"/>
<line x1="302.50" y1="366.87" x2="299.50" y2="366.87" stroke="#3a3a3a" stroke-width="1.0"/>
<line x1="48.50" y1="362.65" x2="51.50" y2="362.65" stroke="#3a3a3a" stroke-width="1.0"/>
<line x1="302.50" y1="362.65" x2="299.50" y2="362.65" stroke="#3a3a3a" stroke-width="1.0"/>
<line x1="48.50" y1="358.43" x2="51.50" y2="358.43" stroke="#3a3a3a" stroke-width="1.0"/>
<line x1="302.50" y1="358.43" x2="299.50" y2="358.43" stroke="#3a3a3a" stroke-width="1.0"/>
<line x1="48.50" y1="354.22" x2="51.50" y2="354.22" stroke="#3a3a3a" stroke-width="1.0"/>
<line x1="302.50" y1="354.22" x2="299.50" y2="354.22" stroke="#3a3a3a" stroke-width="1.0"/>
<text x="45.40" y="329.60" font-size="15" fill="#111" stroke="#111" stroke-width="0.35" text-anchor="end" >350</text>
<text x="45.40" y="304.20" font-size="15" fill="#111" stroke="#111" stroke-width="0.35" text-anchor="end" >400</text>
<text x="45.40" y="278.80" font-size="15" fill="#111" stroke="#111" stroke-width="0.35" text-anchor="end" >450</text>
<text x="45.40" y="253.40" font-size="15" fill="#111" stroke="#111" stroke-width="0.35" text-anchor="end" >500</text>
<text x="45.40" y="228.00" font-size="15" fill="#111" stroke="#111" stroke-width="0.35" text-anchor="end" >550</text>
<text x="306.40" y="343.24" font-size="15" fill="#111" stroke="#111" stroke-width="0.35" text-anchor="start" >50</text>
<path transform="translate(306.40,317.84) scale(0.00732,-0.00732)" d="M763 0L583 0L583 1147Q518 1085 412 1023Q307 961 223 930L223 1104Q374 1175 487 1276Q600 1377 647 1472L763 1472Z" fill="#111" stroke="#111" stroke-width="47.8"/>
<text x="306.40" y="317.84" font-size="15" fill="#111" stroke="#111" stroke-width="0.35" text-anchor="start" >&#8199;00</text>
<path transform="translate(306.40,292.44) scale(0.00732,-0.00732)" d="M763 0L583 0L583 1147Q518 1085 412 1023Q307 961 223 930L223 1104Q374 1175 487 1276Q600 1377 647 1472L763 1472Z" fill="#111" stroke="#111" stroke-width="47.8"/>
<text x="306.40" y="292.44" font-size="15" fill="#111" stroke="#111" stroke-width="0.35" text-anchor="start" >&#8199;50</text>
<text x="306.40" y="267.04" font-size="15" fill="#111" stroke="#111" stroke-width="0.35" text-anchor="start" >200</text>
<text x="306.40" y="241.64" font-size="15" fill="#111" stroke="#111" stroke-width="0.35" text-anchor="start" >250</text>
<text x="45.40" y="482.10" font-size="15" fill="#111" stroke="#111" stroke-width="0.35" text-anchor="end" >90</text>
<path transform="translate(20.37,439.93) scale(0.00732,-0.00732)" d="M763 0L583 0L583 1147Q518 1085 412 1023Q307 961 223 930L223 1104Q374 1175 487 1276Q600 1377 647 1472L763 1472Z" fill="#111" stroke="#111" stroke-width="47.8"/>
<text x="45.40" y="439.93" font-size="15" fill="#111" stroke="#111" stroke-width="0.35" text-anchor="end" >&#8199;00</text>
<path transform="translate(20.37,397.77) scale(0.00732,-0.00732)" d="M763 0L583 0L583 1147Q518 1085 412 1023Q307 961 223 930L223 1104Q374 1175 487 1276Q600 1377 647 1472L763 1472Z" fill="#111" stroke="#111" stroke-width="47.8"/>
<path transform="translate(28.72,397.77) scale(0.00732,-0.00732)" d="M763 0L583 0L583 1147Q518 1085 412 1023Q307 961 223 930L223 1104Q374 1175 487 1276Q600 1377 647 1472L763 1472Z" fill="#111" stroke="#111" stroke-width="47.8"/>
<text x="45.40" y="397.77" font-size="15" fill="#111" stroke="#111" stroke-width="0.35" text-anchor="end" >&#8199;&#8199;0</text>
<path transform="translate(20.37,355.60) scale(0.00732,-0.00732)" d="M763 0L583 0L583 1147Q518 1085 412 1023Q307 961 223 930L223 1104Q374 1175 487 1276Q600 1377 647 1472L763 1472Z" fill="#111" stroke="#111" stroke-width="47.8"/>
<text x="45.40" y="355.60" font-size="15" fill="#111" stroke="#111" stroke-width="0.35" text-anchor="end" >&#8199;20</text>
<text x="48.50" y="494.30" font-size="15" fill="#111" stroke="#111" stroke-width="0.35" text-anchor="middle" >0</text>
<path transform="translate(78.32,494.30) scale(0.00732,-0.00732)" d="M763 0L583 0L583 1147Q518 1085 412 1023Q307 961 223 930L223 1104Q374 1175 487 1276Q600 1377 647 1472L763 1472Z" fill="#111" stroke="#111" stroke-width="47.8"/>
<text x="90.83" y="494.30" font-size="15" fill="#111" stroke="#111" stroke-width="0.35" text-anchor="middle" >&#8199;00</text>
<text x="133.17" y="494.30" font-size="15" fill="#111" stroke="#111" stroke-width="0.35" text-anchor="middle" >200</text>
<text x="175.50" y="494.30" font-size="15" fill="#111" stroke="#111" stroke-width="0.35" text-anchor="middle" >300</text>
<text x="217.83" y="494.30" font-size="15" fill="#111" stroke="#111" stroke-width="0.35" text-anchor="middle" >400</text>
<text x="260.17" y="494.30" font-size="15" fill="#111" stroke="#111" stroke-width="0.35" text-anchor="middle" >500</text>
<text x="302.50" y="494.30" font-size="15" fill="#111" stroke="#111" stroke-width="0.35" text-anchor="middle" >600</text>
<text transform="translate(12.60,286.20) rotate(-90)" font-size="15" fill="#111" stroke="#111" stroke-width="0.35" text-anchor="middle"><tspan font-style="italic">T</tspan> (K)</text>
<text transform="translate(346.90,286.40) rotate(-90)" font-size="15" fill="#111" stroke="#111" stroke-width="0.35" text-anchor="middle"><tspan font-style="italic">T</tspan> (°C)</text>
<text transform="translate(12.60,414.95) rotate(-90)" font-size="15" fill="#111" stroke="#111" stroke-width="0.35" text-anchor="middle">Resistance change (%)</text>
<text x="175.50" y="511.40" font-size="15" fill="#111" stroke="#111" stroke-width="0.35" text-anchor="middle" >Time (min)</text>
<text x="262.20" y="464.80" font-size="15" fill="#313e9e" stroke="#313e9e" stroke-width="0.2" text-anchor="start" >in air</text>
</svg>
</body></html>
